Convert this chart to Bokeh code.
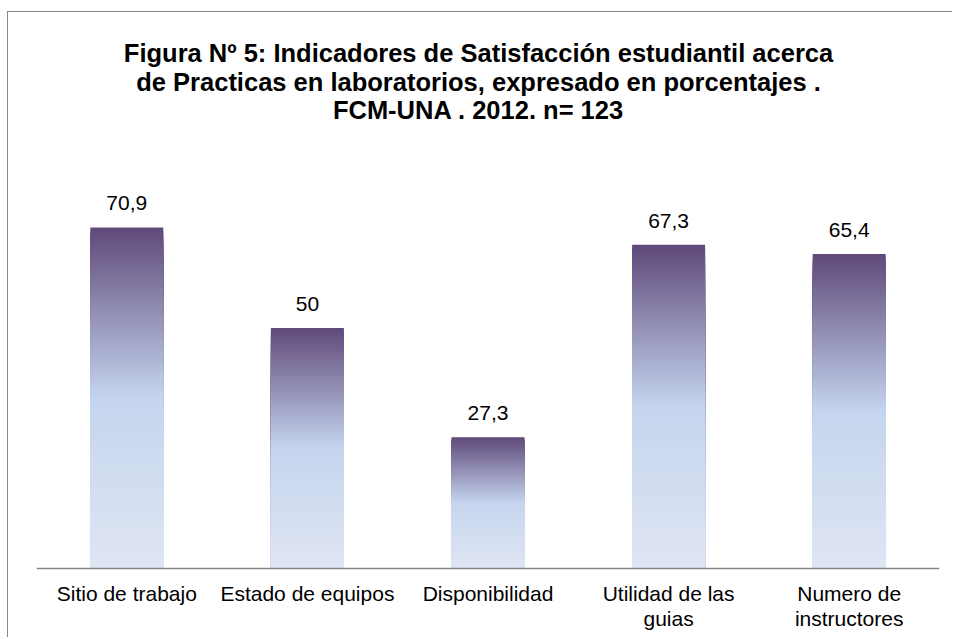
from bokeh.plotting import figure
from bokeh.models import ColumnDataSource, Range1d, FactorRange, Span
from bokeh.core.properties import value
from bokeh.embed import file_html
from bokeh.resources import INLINE

# ---- data ----
categories = ["Sitio de trabajo", "Estado de equipos", "Disponibilidad",
              "Utilidad de las guias", "Numero de instructores"]
tick_labels = ["Sitio de trabajo", "Estado de equipos", "Disponibilidad",
               "Utilidad de las\nguias", "Numero de\ninstructores"]
percentages = [70.9, 50, 27.3, 67.3, 65.4]
value_labels = ["70,9", "50", "27,3", "67,3", "65,4"]

title_lines = ["Figura Nº 5: Indicadores de Satisfacción estudiantil acerca",
               "de Practicas en laboratorios, expresado en porcentajes .",
               "FCM-UNA . 2012. n= 123"]

FONT = "Liberation Sans"

# gradient stops (t = 0 at bar top, 1 at bar bottom)
stops = [(0.0, (95, 73, 122)), (0.5, (197, 213, 238)), (1.0, (223, 229, 243))]


def grad(t):
    for (t0, c0), (t1, c1) in zip(stops[:-1], stops[1:]):
        if t <= t1:
            f = (t - t0) / (t1 - t0)
            return "#%02x%02x%02x" % tuple(int(round(a + (b - a) * f)) for a, b in zip(c0, c1))
    return "#%02x%02x%02x" % stops[-1][1]


N = 90
xs, tops, colors = [], [], []
for k in range(N, 0, -1):
    frac = k / N
    for cat, v in zip(categories, percentages):
        xs.append(cat)
        tops.append(v * frac)
        colors.append(grad(1 - (k - 0.5) / N))

bars = ColumnDataSource(dict(x=xs, top=tops, color=colors))
labels = ColumnDataSource(dict(x=categories, y=percentages, text=value_labels))
cat_labels = ColumnDataSource(dict(x=categories, y=[0] * len(categories), text=tick_labels))

W, H = 945, 626
PX_PER_UNIT = 4.81
AXIS_Y = 556  # pixel row of the category axis inside the figure
Y_TOP = AXIS_Y / PX_PER_UNIT
Y_BOTTOM = -(H - AXIS_Y) / PX_PER_UNIT

p = figure(width=W, height=H, x_range=FactorRange(*categories),
           y_range=Range1d(Y_BOTTOM, Y_TOP), output_backend="svg", toolbar_location=None,
           x_axis_location=None, y_axis_location=None,
           min_border_left=28, min_border_right=14, min_border_bottom=0,
           min_border_top=0)
p.styles = {"margin-left": "7px", "margin-top": "11px",
            "border-left": "1px solid #868686", "border-top": "1px solid #868686"}
p.outline_line_color = None
p.background_fill_color = "white"
p.border_fill_color = "white"
p.x_range.range_padding = 0
p.x_range.factor_padding = 0
p.xgrid.grid_line_color = None
p.ygrid.grid_line_color = None

p.vbar(x="x", top="top", bottom=0, width=0.404, color="color", line_color=None, source=bars)

# category axis baseline
p.add_layout(Span(location=0, dimension="width", line_color="#868686", line_width=1.5))

# value labels
p.text(x="x", y="y", text="text", source=labels, text_align="center",
       text_baseline="alphabetic", y_offset=-24, text_font=value(FONT),
       text_font_size="21px", text_color="black")

# category labels
p.text(x="x", y="y", text="text", source=cat_labels, text_align="center",
       text_baseline="top", y_offset=13.5, text_font=value(FONT),
       text_font_size="21px", text_color="black", text_line_height=1.1)

# title
for i, line in enumerate(title_lines):
    p.text(x=[2.5], y=[Y_TOP], text=[line], text_align="center",
           text_baseline="alphabetic", x_offset=-9.5, y_offset=40.5 + 28.5 * i,
           text_font=value(FONT), text_font_size="25.5px",
           text_font_style="bold", text_color="black")

open("out.html", "w").write(file_html(p, INLINE))
